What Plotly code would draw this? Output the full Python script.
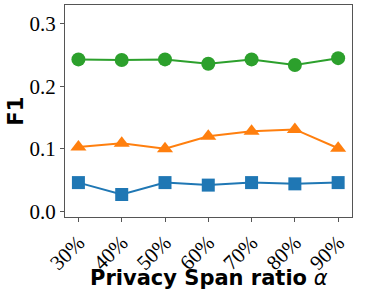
import plotly.graph_objects as go

categories = ["30%", "40%", "50%", "60%", "70%", "80%", "90%"]
green_vals = [0.243, 0.242, 0.243, 0.236, 0.243, 0.234, 0.245]
orange_vals = [0.103, 0.109, 0.100, 0.120, 0.128, 0.131, 0.101]
blue_vals = [0.046, 0.027, 0.046, 0.042, 0.046, 0.044, 0.046]
y_ticks = [0.0, 0.1, 0.2, 0.3]

SERIF = "Times New Roman, Liberation Serif, Times, serif"
SANS = "DejaVu Sans"

x = list(range(len(categories)))
fig = go.Figure()
fig.add_trace(go.Scatter(x=x, y=blue_vals, mode="lines+markers",
                         line=dict(color="#1f77b4", width=2),
                         marker=dict(symbol="square", size=13, color="#1f77b4")))
fig.add_trace(go.Scatter(x=x, y=orange_vals, mode="lines+markers",
                         line=dict(color="#ff7f0e", width=2),
                         marker=dict(symbol="triangle-up", size=14, color="#ff7f0e")))
fig.add_trace(go.Scatter(x=x, y=green_vals, mode="lines+markers",
                         line=dict(color="#2ca02c", width=2),
                         marker=dict(symbol="circle", size=14, color="#2ca02c")))

fig.update_layout(
    width=366, height=297,
    margin=dict(l=65, r=14, t=5, b=80, autoexpand=False),
    paper_bgcolor="white", plot_bgcolor="white",
    showlegend=False,
    font=dict(family=SERIF),
    xaxis=dict(
        range=[-0.31, 6.32], automargin=False,
        tickvals=x, ticktext=categories, tickangle=-45,
        tickfont=dict(family=SERIF, size=21, color="black"),
        showgrid=False, zeroline=False,
        showline=True, linecolor="#555555", linewidth=1, mirror=True,
        ticks="outside", ticklen=4, tickcolor="#555555",
    ),
    yaxis=dict(
        range=[-0.009, 0.33], automargin=False,
        tickvals=y_ticks, ticktext=["0.0", "0.1", "0.2", "0.3"],
        tickfont=dict(family=SERIF, size=21, color="black"),
        showgrid=False, zeroline=False,
        showline=True, linecolor="#555555", linewidth=1, mirror=True,
        ticks="outside", ticklen=4, tickcolor="#555555",
    ),
    annotations=[
        dict(text="<b>Privacy Span ratio</b> <i>α</i>", xref="paper", yref="paper",
             x=0.5, y=-0.29, xanchor="center", yanchor="middle", showarrow=False,
             font=dict(family=SANS, size=21, color="black")),
        dict(text="<b>F1</b>", xref="paper", yref="paper",
             x=-0.172, y=0.5, xanchor="center", yanchor="middle", showarrow=False,
             textangle=-90, font=dict(family=SANS, size=21, color="black")),
    ],
)
fig.write_html("out.html", config={"displayModeBar": False},
               post_script="document.body.style.margin='0';document.body.style.overflow='hidden';")
